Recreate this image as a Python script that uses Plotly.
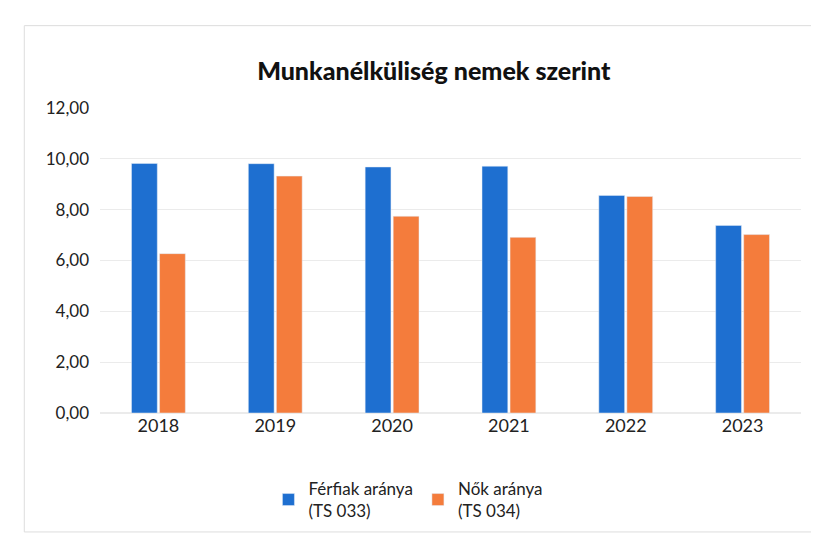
import plotly.graph_objects as go

# Years and unemployment rates (%)
years = ['2018', '2019', '2020', '2021', '2022', '2023']
ferfiak = [9.82, 9.81, 9.68, 9.71, 8.56, 7.38]
nok = [6.27, 9.32, 7.74, 6.91, 8.52, 7.02]

y_ticks = [0, 2, 4, 6, 8, 10, 12]

fig = go.Figure()
fig.add_trace(go.Bar(x=years, y=ferfiak, name='Férfiak aránya<br>(TS 033)',
                     marker_color='#1E6FD0'))
fig.add_trace(go.Bar(x=years, y=nok, name='Nők aránya<br>(TS 034)',
                     marker_color='#F47C3C'))

fig.update_layout(
    width=819, height=552,
    separators=',.',
    font=dict(family='Lato, Open Sans, sans-serif', color='#222222'),
    paper_bgcolor='white', plot_bgcolor='white',
    title=dict(text='Munkanélküliség nemek szerint', x=0.52, xanchor='center',
               y=0.885, yanchor='middle',
               font=dict(size=25, color='#111111', weight=900)),
    barmode='group', bargap=0.52, bargroupgap=0.08,
    margin=dict(l=92, r=26, t=100, b=147),
    legend=dict(orientation='h', x=0.44, xanchor='center', y=-0.19, yanchor='top',
                font=dict(size=17, color='#222222'), itemwidth=30,
                traceorder='normal'),
    showlegend=True,
)
fig.update_xaxes(showgrid=False, showline=False, ticks='',
                 tickfont=dict(size=18, color='#222222'))
fig.update_yaxes(range=[0, 12], tickvals=y_ticks, tickformat='.2f',
                 showgrid=True, gridcolor='#ebebeb', zeroline=True,
                 zerolinecolor='#ebebeb', tickfont=dict(size=17, color='#222222'),
                 ticklabelstandoff=10)

# light frame of the chart area
fig.add_shape(type='rect', xref='paper', yref='paper', x0=-0.108, x1=1.025,
              y0=-0.39, y1=1.27, line=dict(color='#dddddd', width=1))

fig.write_html('out.html')
